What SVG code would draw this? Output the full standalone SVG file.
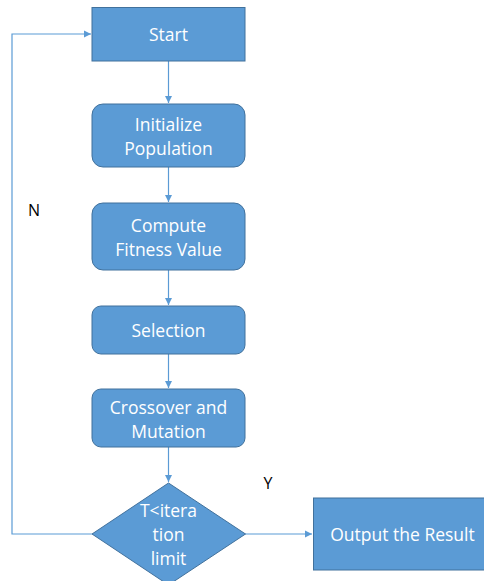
<svg xmlns="http://www.w3.org/2000/svg" width="484" height="581" viewBox="0 0 484 581">
<style>
.box{fill:#5B9BD5;stroke:#41719C;stroke-width:1}
.t{fill:#fff;font-family:"Open Sans","Liberation Sans",sans-serif;font-size:17.5px;text-anchor:middle;dominant-baseline:central}
.lbl{fill:#000;font-family:"Open Sans","Liberation Sans",sans-serif;font-size:16px;text-anchor:middle;dominant-baseline:central}
.c{fill:none;stroke:#5B9BD5;stroke-width:1.2}
</style>
<defs>
<marker id="a" markerWidth="8" markerHeight="8" refX="7" refY="4" orient="auto" markerUnits="userSpaceOnUse">
<path d="M0,0.5 L7,4 L0,7.5 Z" fill="#5B9BD5"/>
</marker>
</defs>
<rect width="484" height="581" fill="#fff"/>
<g id="connectors">
<line class="c" x1="168.5" y1="61" x2="168.5" y2="103" marker-end="url(#a)"/>
<line class="c" x1="168.5" y1="167" x2="168.5" y2="202" marker-end="url(#a)"/>
<line class="c" x1="168.5" y1="270" x2="168.5" y2="305" marker-end="url(#a)"/>
<line class="c" x1="168.5" y1="354" x2="168.5" y2="388" marker-end="url(#a)"/>
<line class="c" x1="168.5" y1="447" x2="168.5" y2="482" marker-end="url(#a)"/>
<line class="c" x1="245" y1="534" x2="312" y2="534" marker-end="url(#a)"/>
<polyline class="c" points="92,534 12,534 12,34 91,34" marker-end="url(#a)"/>
</g>
<g id="start"><rect class="box" x="92" y="7.5" width="153" height="53.5"/><text class="t" x="168.5" y="34">Start</text></g>
<g id="init"><rect class="box" x="92" y="104" width="153" height="63" rx="11"/><text class="t" x="168.5" y="124">Initialize</text><text class="t" x="168.5" y="148">Population</text></g>
<g id="fitness"><rect class="box" x="92" y="203" width="153" height="67" rx="11"/><text class="t" x="168.5" y="225">Compute</text><text class="t" x="168.5" y="249">Fitness Value</text></g>
<g id="selection"><rect class="box" x="92" y="306" width="153" height="48" rx="9"/><text class="t" x="168.5" y="330">Selection</text></g>
<g id="crossover"><rect class="box" x="92" y="389" width="153" height="58" rx="9"/><text class="t" x="168.5" y="407">Crossover and</text><text class="t" x="168.5" y="431">Mutation</text></g>
<g id="decision"><polygon class="box" points="168.5,483 245.5,534 168.5,585 92,534"/><text class="t" x="168.5" y="510">T&lt;itera</text><text class="t" x="168.5" y="534">tion</text><text class="t" x="168.5" y="558">limit</text></g>
<g id="output"><rect class="box" x="313.5" y="498" width="175" height="72"/><text class="t" x="402.5" y="534">Output the Result</text></g>
<g id="labels"><text class="lbl" x="34" y="210">N</text><text class="lbl" x="268" y="483">Y</text></g>
</svg>
